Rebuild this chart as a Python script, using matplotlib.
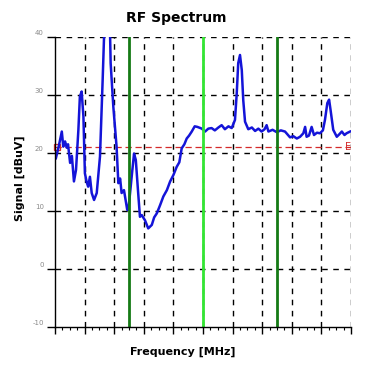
import numpy as np
import matplotlib.pyplot as plt
from matplotlib.ticker import MultipleLocator

# ------------------------------------------------------------
# Data (x in grid divisions, y in dBuV)
# ------------------------------------------------------------
freq = [0.03, 0.12, 0.23, 0.28, 0.34, 0.40, 0.44, 0.51, 0.57, 0.64, 0.71,
        0.79, 0.84, 0.90, 0.96, 1.01, 1.07, 1.12, 1.18, 1.24, 1.32, 1.41,
        1.52, 1.61, 1.66, 1.76, 1.86, 1.88, 1.97, 2.08, 2.14, 2.20, 2.25,
        2.33, 2.44, 2.48, 2.59, 2.67, 2.73, 2.81, 2.87, 2.93, 3.04, 3.15,
        3.27, 3.35, 3.44, 3.55, 3.66, 3.78, 3.89, 4.00, 4.11, 4.20, 4.28,
        4.37, 4.45, 4.53, 4.62, 4.72, 4.81, 4.96, 5.07, 5.18, 5.29, 5.40,
        5.52, 5.63, 5.74, 5.86, 5.97, 6.08, 6.14, 6.19, 6.25, 6.31, 6.36,
        6.42, 6.53, 6.65, 6.76, 6.87, 6.98, 7.08, 7.15, 7.21, 7.35, 7.49,
        7.63, 7.77, 7.94, 8.05, 8.17, 8.28, 8.39, 8.45, 8.50, 8.58, 8.67,
        8.75, 8.85, 8.95, 9.05, 9.12, 9.20, 9.26, 9.31, 9.40, 9.52, 9.60,
        9.69, 9.78, 9.85, 9.97]
signal = [19.1, 21.0, 23.7, 21.1, 22.0, 20.9, 21.5, 18.3, 19.5, 15.1, 17.1,
          24.0, 29.7, 30.6, 26.3, 16.5, 15.0, 14.2, 15.9, 13.1, 11.9, 13.1,
          19.4, 32.6, 40.5, 42.0, 40.5, 35.5, 28.0, 21.1, 14.8, 15.6, 13.1,
          13.6, 10.2, 10.2, 15.9, 19.9, 18.8, 13.1, 9.0, 9.3, 8.4, 7.0,
          7.6, 8.9, 9.6, 11.0, 12.5, 13.6, 15.1, 16.2, 17.6, 18.4, 20.8,
          21.5, 22.5, 23.0, 23.7, 24.6, 24.5, 24.2, 23.7, 24.2, 24.3, 23.9,
          24.4, 24.8, 24.1, 24.6, 24.3, 25.7, 30.3, 35.5, 36.9, 34.3, 29.1,
          25.4, 24.1, 24.4, 23.8, 24.2, 23.7, 24.1, 24.8, 23.7, 24.0, 23.6,
          23.9, 23.7, 22.7, 22.9, 22.5, 22.8, 23.4, 24.5, 22.8, 23.0, 24.5,
          23.1, 23.5, 23.4, 23.9, 25.7, 28.6, 29.2, 27.4, 24.0, 22.8, 23.2,
          23.7, 23.1, 23.4, 23.7]

markers_dark = [2.5, 7.5]   # dark green marker lines
marker_center = [5.0]       # bright green marker line
ref_level = 21.0            # red dashed reference level

y_ticks = [-10, 0, 10, 20, 30, 40]

# ------------------------------------------------------------
# Figure
# ------------------------------------------------------------
fig = plt.figure(figsize=(3.73, 3.65), dpi=100)
ax = fig.add_axes([55 / 373, 38 / 365, 296 / 373, 290 / 365])

ax.set_xlim(0, 10)
ax.set_ylim(-10, 40)

# dashed black grid
for gx in range(1, 11):
    ax.axvline(gx, color='black', lw=1.0, ls=(0, (4, 4)), zorder=1)
for gy in y_ticks[1:]:
    ax.axhline(gy, color='black', lw=1.0, ls=(0, (4, 4)), zorder=1)

# red reference level with start/end markers
ax.axhline(ref_level, color='#d42a2a', lw=0.9, ls=(0, (5, 3)), zorder=2)
ax.plot([0.08], [ref_level], marker='s', ms=4, mfc='none', mec='#d42a2a',
        mew=0.9, zorder=3, clip_on=False)
ax.text(9.99, ref_level, 'E', color='#d42a2a', fontsize=7,
        ha='right', va='center', zorder=3)

# spectrum trace
ax.plot(freq, signal, color='#1414d8', lw=1.8, zorder=4)

# marker lines
for mx in markers_dark:
    ax.axvline(mx, color='#157a15', lw=2.0, zorder=5)
for mx in marker_center:
    ax.axvline(mx, color='#33e633', lw=2.0, zorder=5)

# axes styling
for s in ['top', 'right']:
    ax.spines[s].set_visible(False)
for s in ['left', 'bottom']:
    ax.spines[s].set_linewidth(1.0)
    ax.spines[s].set_zorder(6)

ax.set_xticks(range(0, 11))
ax.xaxis.set_minor_locator(MultipleLocator(0.25))
ax.tick_params(axis='x', which='major', length=5, width=1, labelbottom=False)
ax.tick_params(axis='x', which='minor', length=2, width=0.8)
ax.set_yticks(y_ticks)
ax.tick_params(axis='y', which='major', length=6, width=1, labelleft=False)

# y tick labels: small gray text sitting just above each tick
for yv in y_ticks:
    ax.annotate(str(yv), xy=(0, yv), xytext=(-8, 0.5),
                textcoords='offset points', ha='right', va='bottom',
                fontsize=5, color='#8a8a8a', annotation_clip=False)

fig.text(176 / 373, 1 - 18 / 365, 'RF Spectrum', ha='center', va='center',
         fontsize=10, fontweight='bold')
fig.text(183 / 373, 1 - 352 / 365, 'Frequency [MHz]', ha='center',
         va='center', fontsize=8, fontweight='bold')
fig.text(20 / 373, 1 - 178 / 365, 'Signal [dBuV]', ha='center',
         va='center', fontsize=8, fontweight='bold', rotation=90)

fig.savefig('out.png', dpi=100)
